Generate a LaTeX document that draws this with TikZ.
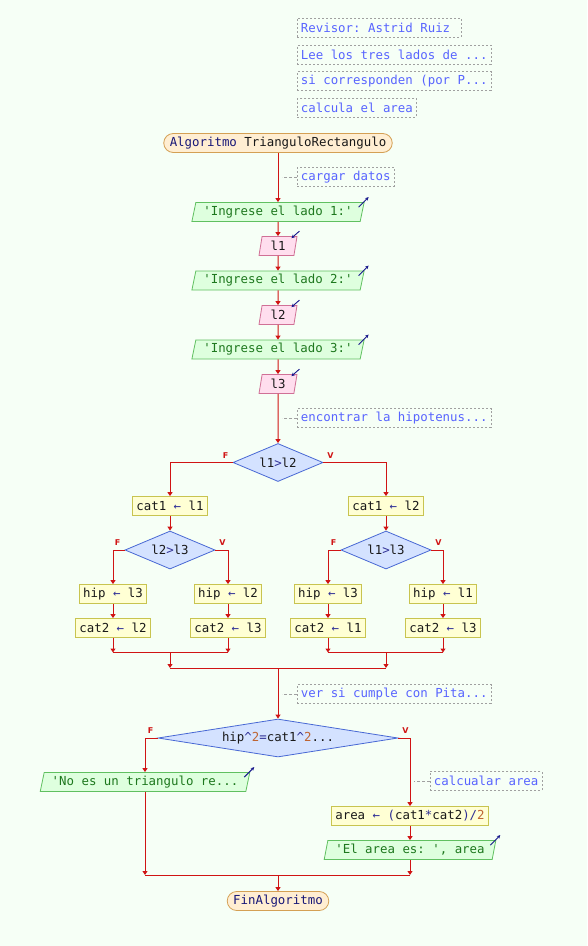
\documentclass[tikz,border=0pt]{standalone}
\usepackage{fontspec}
\setmonofont{DejaVu Sans Mono}
\newfontfamily\fvfont{DejaVu Sans}
\usetikzlibrary{shapes.geometric,arrows.meta,calc}

\definecolor{bgcol}{RGB}{246,255,246}
\definecolor{flowred}{RGB}{208,20,20}
\definecolor{termfill}{RGB}{255,238,210}
\definecolor{termline}{RGB}{212,160,84}
\definecolor{procfill}{RGB}{255,255,212}
\definecolor{procline}{RGB}{200,196,80}
\definecolor{decfill}{RGB}{212,226,255}
\definecolor{decline}{RGB}{72,104,212}
\definecolor{outfill}{RGB}{222,255,222}
\definecolor{outline}{RGB}{96,192,96}
\definecolor{infill}{RGB}{255,222,238}
\definecolor{inline}{RGB}{208,112,150}
\definecolor{cmttext}{RGB}{88,100,255}
\definecolor{cmtline}{RGB}{160,160,160}
\definecolor{kwcol}{RGB}{24,24,120}
\definecolor{opcol}{RGB}{48,48,150}
\definecolor{numcol}{RGB}{190,100,50}
\definecolor{strcol}{RGB}{30,120,30}
\definecolor{iconcol}{RGB}{24,24,140}

\newcommand{\opr}[1]{\textcolor{opcol}{#1}}
\newcommand{\numc}[1]{\textcolor{numcol}{#1}}
\newcommand{\kw}[1]{\textcolor{kwcol}{#1}}
\newcommand{\outmark}[1]{\draw[icon] ($(#1.top right corner)+(-6,5)$) -- ++(10,-10);}
\newcommand{\inmark}[1]{\draw[icon] ($(#1.top right corner)+(2,-5)$) -- ++(-8,7);}

\begin{document}
\begin{tikzpicture}[x=1pt, y=-1pt,
    base/.style={font=\ttfamily\fontsize{12.4}{14}\selectfont, text=black!90, line width=0.8pt, minimum height=19pt, inner ysep=0pt},
    term/.style={base, draw=termline, fill=termfill, rounded corners=9.5pt, inner xsep=6pt},
    proc/.style={base, draw=procline, fill=procfill, inner xsep=4pt},
    dec/.style={base, diamond, draw=decline, fill=decfill, inner sep=0pt, minimum height=38pt, aspect=2.4},
    outp/.style={base, trapezium, trapezium left angle=72, trapezium right angle=108, trapezium stretches body, draw=outline, fill=outfill, text=strcol, inner xsep=7.5pt},
    inp/.style={base, trapezium, trapezium left angle=72, trapezium right angle=108, trapezium stretches body, draw=inline, fill=infill, minimum width=38pt, inner xsep=7.5pt},
    cmt/.style={base, draw=cmtline, line width=0.8pt, dash pattern=on 2pt off 2pt, text=cmttext, inner xsep=3.5pt, anchor=west},
    flow/.style={draw=flowred, line width=1pt, -{Triangle[width=5pt,length=4pt]}},
    link/.style={draw=flowred, line width=1pt},
    cmtlink/.style={draw=cmtline, line width=0.8pt, dash pattern=on 3pt off 2pt},
    fv/.style={text=flowred, font=\fvfont\bfseries\fontsize{8}{8}\selectfont, inner sep=0pt},
    icon/.style={draw=iconcol, line width=0.9pt, -{Stealth[length=3.5pt,width=3.5pt]}}]

\path[use as bounding box, fill=bgcol] (0,0) rectangle (587,946);

\node[cmt] (cm1) at (297,27.5) {Revisor: Astrid Ruiz\phantom{x}};
\node[cmt] (cm2) at (297,54.5) {Lee los tres lados de ...};
\node[cmt] (cm3) at (297,81) {si corresponden (por P...};
\node[cmt] (cm4) at (297,108) {calcula el area};

\node[term] (start) at (278,143) {\kw{Algoritmo} TrianguloRectangulo};
\node[cmt] (cm5) at (297,177) {cargar datos};
\node[outp] (o1) at (278,212) {'Ingrese el lado 1:'};
\node[inp] (i1) at (278,246) {l1};
\node[outp] (o2) at (278,280.5) {'Ingrese el lado 2:'};
\node[inp] (i2) at (278,315) {l2};
\node[outp] (o3) at (278,349.5) {'Ingrese el lado 3:'};
\node[inp] (i3) at (278,384) {l3};
\node[cmt] (cm6) at (297,418) {encontrar la hipotenus...};

\node[dec, minimum width=90pt] (d1) at (278,462.5) {l1\opr{>}l2};
\node[proc] (a1) at (170,506) {cat1 \opr{←} l1};
\node[proc] (a2) at (386,506) {cat1 \opr{←} l2};
\node[dec, minimum width=90pt] (d2) at (170,550) {l2\opr{>}l3};
\node[dec, minimum width=90pt] (d3) at (386,550) {l1\opr{>}l3};
\node[proc] (h1) at (113,594) {hip \opr{←} l3};
\node[proc] (h2) at (228,594) {hip \opr{←} l2};
\node[proc] (h3) at (328,594) {hip \opr{←} l3};
\node[proc] (h4) at (443,594) {hip \opr{←} l1};
\node[proc] (c1) at (113,628) {cat2 \opr{←} l2};
\node[proc] (c2) at (228,628) {cat2 \opr{←} l3};
\node[proc] (c3) at (328,628) {cat2 \opr{←} l1};
\node[proc] (c4) at (443,628) {cat2 \opr{←} l3};

\coordinate (j1a) at (113,652.5);
\coordinate (j1b) at (228,652.5);
\coordinate (j1c) at (170,652.5);
\coordinate (j2a) at (328,652.5);
\coordinate (j2b) at (443,652.5);
\coordinate (j2c) at (386,652.5);
\coordinate (k1) at (170,668);
\coordinate (k2) at (386,668);
\coordinate (k3) at (278,668);

\node[cmt] (cm7) at (297,694) {ver si cumple con Pita...};
\node[dec, minimum width=240pt, aspect=6.3] (d4) at (278,738) {hip\opr{\textasciicircum}\numc{2}\opr{=}cat1\opr{\textasciicircum}\numc{2}...};
\node[outp] (no) at (145,782) {'No es un triangulo re...};
\node[cmt] (cm8) at (430,781) {calcualar area};
\node[proc] (ar) at (410,816) {area \opr{← (}cat1\opr{*}cat2\opr{)/}\numc{2}};
\node[outp] (el) at (410,850) {'El area es: ', area};
\coordinate (m1) at (145,875);
\coordinate (m2) at (410,875);
\coordinate (m3) at (278,875);
\node[term] (fin) at (278,901) {\kw{FinAlgoritmo}};

\draw[flow] (start) -- (o1);
\draw[flow] (o1) -- (i1);
\draw[flow] (i1) -- (o2);
\draw[flow] (o2) -- (i2);
\draw[flow] (i2) -- (o3);
\draw[flow] (o3) -- (i3);
\draw[flow] (i3) -- (d1);

\draw[flow] (d1.west) -| (a1);
\draw[flow] (d1.east) -| (a2);
\draw[flow] (a1) -- (d2);
\draw[flow] (a2) -- (d3);
\draw[flow] (d2.west) -| (h1);
\draw[flow] (d2.east) -| (h2);
\draw[flow] (d3.west) -| (h3);
\draw[flow] (d3.east) -| (h4);
\draw[flow] (h1) -- (c1);
\draw[flow] (h2) -- (c2);
\draw[flow] (h3) -- (c3);
\draw[flow] (h4) -- (c4);
\draw[flow] (c1) -- (j1a);
\draw[flow] (c2) -- (j1b);
\draw[flow] (c3) -- (j2a);
\draw[flow] (c4) -- (j2b);
\draw[link] (j1a) -- (j1b);
\draw[link] (j2a) -- (j2b);
\draw[flow] (j1c) -- (k1);
\draw[flow] (j2c) -- (k2);
\draw[link] (k1) -- (k2);
\draw[flow] (k3) -- (d4);

\draw[flow] (d4.west) -| (no);
\draw[flow] (d4.east) -| (ar);
\draw[flow] (ar) -- (el);
\draw[flow] (no) -- (m1);
\draw[flow] (el) -- (m2);
\draw[link] (m1) -- (m2);
\draw[flow] (m3) -- (fin);

\node[fv] (f1) at ($(d1.west)+(-7,-7)$) {F};
\node[fv] (v1) at ($(d1.east)+(7,-7)$) {V};
\node[fv] (f2) at ($(d2.west)+(-7,-7)$) {F};
\node[fv] (v2) at ($(d2.east)+(7,-7)$) {V};
\node[fv] (f3) at ($(d3.west)+(-7,-7)$) {F};
\node[fv] (v3) at ($(d3.east)+(7,-7)$) {V};
\node[fv] (f4) at ($(d4.west)+(-7,-7)$) {F};
\node[fv] (v4) at ($(d4.east)+(7,-7)$) {V};

\draw[cmtlink] (cm5.west) -- ++(-15,0);
\draw[cmtlink] (cm6.west) -- ++(-15,0);
\draw[cmtlink] (cm7.west) -- ++(-15,0);
\draw[cmtlink] (cm8.west) -- ++(-16,0);

\outmark{o1}
\outmark{o2}
\outmark{o3}
\outmark{no}
\outmark{el}
\inmark{i1}
\inmark{i2}
\inmark{i3}
\end{tikzpicture}
\end{document}
